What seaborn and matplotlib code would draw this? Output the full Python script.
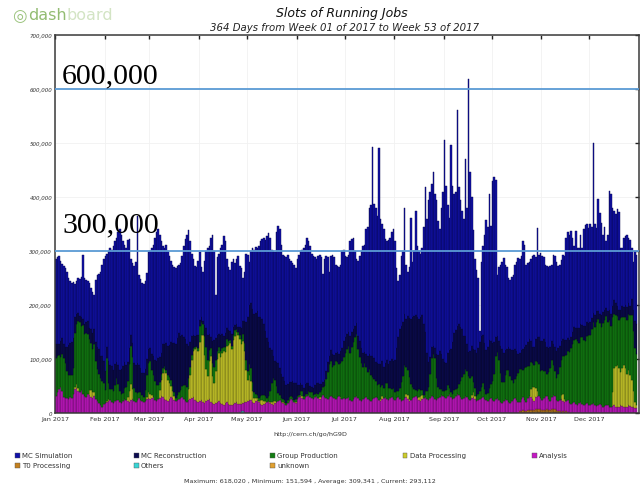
import numpy as np
import pandas as pd
import matplotlib
matplotlib.use("Agg")
import matplotlib.pyplot as plt
from matplotlib.patches import Rectangle
import seaborn as sns

# ---------------------------------------------------------------------------
# Daily running-job slots for 2017, in thousands of slots (364 days)
# ---------------------------------------------------------------------------
# total slots per day (top of the stack)
total_k = (
    [285, 288, 290, 282, 276, 272, 268, 262, 250, 244, 240, 242, 238, 245, 250, 248, 252, 292, 250, 246, 244, 240, 232, 225, 218, 246, 255, 258, 262, 275, 285]  # Jan
    + [290, 295, 300, 305, 302, 310, 318, 325, 335, 340, 330, 318, 312, 305, 320, 322, 285, 278, 272, 280, 365, 255, 248, 240, 238, 245, 260, 298]  # Feb
    + [300, 305, 312, 325, 335, 340, 330, 318, 310, 305, 312, 300, 290, 282, 275, 270, 268, 272, 275, 278, 290, 310, 322, 330, 338, 318, 295, 285, 272, 270, 282]  # Mar
    + [298, 270, 262, 282, 300, 305, 310, 325, 330, 300, 218, 288, 295, 305, 312, 328, 318, 285, 270, 265, 280, 285, 278, 285, 290, 272, 268, 250, 262, 295]  # Apr
    + [292, 280, 300, 305, 302, 308, 305, 310, 318, 322, 325, 320, 328, 333, 325, 302, 300, 298, 335, 346, 340, 312, 292, 290, 288, 292, 286, 282, 278, 275, 268]  # May
    + [285, 292, 300, 302, 305, 312, 325, 318, 310, 295, 290, 288, 285, 290, 292, 288, 258, 285, 290, 288, 262, 290, 293, 288, 275, 272, 270, 275, 300, 302]  # Jun
    + [290, 288, 293, 318, 322, 324, 300, 285, 282, 290, 300, 310, 312, 340, 345, 380, 385, 493, 387, 380, 365, 490, 360, 350, 340, 322, 318, 320, 325, 335, 340]  # Jul
    + [318, 268, 245, 255, 290, 300, 380, 275, 262, 270, 362, 280, 300, 374, 310, 300, 295, 305, 345, 418, 360, 395, 410, 425, 446, 405, 395, 355, 340, 380, 410]  # Aug
    + [505, 420, 385, 362, 496, 420, 405, 410, 562, 418, 395, 375, 360, 471, 380, 618, 447, 400, 339, 285, 265, 250, 152, 280, 310, 330, 358, 345, 405, 346]  # Sep
    + [430, 437, 432, 255, 270, 275, 280, 287, 275, 270, 250, 246, 252, 255, 275, 280, 287, 285, 290, 318, 312, 275, 278, 280, 285, 290, 293, 288, 343, 292, 296]  # Oct
    + [290, 288, 275, 272, 270, 272, 275, 293, 290, 280, 272, 275, 283, 293, 290, 325, 335, 330, 337, 325, 310, 337, 305, 305, 330, 305, 340, 348, 350, 343]  # Nov
    + [350, 345, 500, 350, 343, 396, 370, 352, 330, 345, 318, 330, 412, 405, 380, 375, 368, 378, 372, 305, 305, 325, 328, 330, 325, 320, 305, 280, 300, 293]  # Dec
)

analysis_k = (
    [32, 38, 45, 48, 40, 30, 28, 27, 26, 30, 28, 36, 44, 46, 40, 38, 42, 35, 32, 30, 36, 34, 30, 28, 32, 26, 22, 18, 14, 12, 16]
    + [18, 20, 22, 24, 20, 18, 22, 25, 24, 20, 18, 22, 26, 24, 22, 20, 24, 26, 22, 20, 25, 28, 24, 22, 20, 22, 26, 28]
    + [26, 28, 30, 24, 22, 26, 28, 32, 30, 26, 24, 22, 26, 30, 28, 25, 22, 24, 26, 28, 30, 26, 22, 20, 24, 26, 28, 30, 24, 22, 20]
    + [22, 24, 20, 18, 22, 24, 26, 20, 18, 16, 18, 20, 22, 18, 16, 15, 18, 20, 16, 15, 14, 16, 18, 20, 17, 15, 14, 16, 18, 20]
    + [22, 25, 24, 20, 18, 22, 24, 20, 16, 14, 16, 18, 20, 22, 18, 16, 15, 18, 20, 22, 24, 20, 18, 16, 15, 18, 22, 26, 24, 20, 18]
    + [26, 30, 32, 28, 26, 30, 32, 34, 30, 28, 26, 30, 32, 28, 26, 30, 33, 30, 28, 26, 30, 32, 30, 28, 26, 30, 32, 28, 26, 28]
    + [26, 28, 30, 24, 22, 26, 30, 32, 28, 24, 22, 26, 28, 30, 26, 24, 22, 26, 28, 30, 27, 25, 22, 26, 28, 30, 26, 24, 28, 30, 26]
    + [24, 28, 30, 26, 22, 24, 28, 30, 26, 22, 24, 28, 30, 32, 28, 24, 22, 26, 28, 30, 26, 24, 28, 32, 30, 26, 24, 28, 30, 34, 32]
    + [30, 28, 32, 35, 30, 26, 28, 32, 36, 34, 30, 26, 28, 32, 30, 26, 24, 28, 30, 26, 22, 24, 26, 28, 30, 26, 24, 22, 26, 28]
    + [24, 22, 26, 28, 24, 20, 18, 22, 26, 24, 20, 18, 22, 26, 28, 24, 20, 18, 22, 24, 20, 18, 22, 26, 24, 20, 18, 22, 25, 23, 20]
    + [18, 22, 26, 24, 20, 18, 22, 26, 24, 20, 18, 22, 24, 20, 18, 20, 22, 18, 16, 18, 20, 17, 15, 18, 20, 16, 14, 16, 18, 15]
    + [14, 16, 18, 15, 13, 14, 16, 14, 12, 13, 15, 14, 12, 11, 13, 14, 12, 11, 12, 14, 13, 12, 11, 12, 14, 13, 12, 11, 10, 10]
)

data_processing_k = (
    [0] * 12 + [4, 8, 6] + [0] * 6 + [8, 12, 10, 6] + [0] * 6
    + [0, 2, 4] + [0] * 11 + [8, 20, 30, 18] + [0] * 8 + [4, 10]
    + [10, 6, 0, 0, 0, 0, 15, 30, 45, 55, 50, 40, 30, 20, 12, 6, 0, 0, 0, 0, 0, 0, 0, 0, 20, 45, 70, 85, 95, 100, 95]
    + [110, 120, 125, 90, 60, 45, 70, 85, 50, 40, 60, 80, 90, 85, 95, 100, 95, 105, 110, 115, 105, 120, 125, 130, 128, 120, 110, 115, 95, 60]
    + [40, 45, 35, 20, 10, 5, 4, 3, 8, 10, 6, 4, 0, 0, 3, 5, 8, 4, 0, 0, 0, 0, 2, 3, 0, 0, 0, 0, 0, 0, 2]
    + [0, 0, 2, 4] + [0] * 10 + [3] + [0] * 12 + [2, 0, 0]
    + [0] * 22 + [4, 6] + [0] * 7
    + [0] * 7 + [5, 8, 4] + [0] * 5 + [6, 10, 8] + [0] * 13
    + [0] * 17 + [6, 8, 5] + [0] * 10
    + [0] * 24 + [15, 22, 25, 18, 8] + [0, 0]
    + [0] * 12 + [8, 12, 6] + [0] * 15
    + [0] * 14 + [25, 70, 75, 78, 72, 62, 70, 76, 72, 60, 65, 58, 50, 30, 10, 5]
)

group_production_k = (
    [70, 68, 62, 55, 70, 72, 65, 50, 45, 40, 42, 48, 100, 110, 125, 130, 120, 128, 115, 118, 110, 95, 88, 80, 90, 70, 60, 55, 50, 48, 40]
    + [25, 80, 30, 20, 25, 22, 30, 40, 30, 20, 18, 15, 20, 25, 30, 50, 70, 60, 25, 18, 12, 10, 15, 12, 10, 20, 40, 55]
    + [60, 45, 40, 35, 30, 25, 15, 10, 8, 6, 5, 8, 10, 12, 10, 8, 6, 10, 12, 15, 20, 25, 30, 28, 20, 15, 10, 5, 4, 3, 5]
    + [30, 25, 20, 35, 40, 30, 20, 15, 25, 30, 20, 15, 10, 12, 10, 8, 10, 12, 8, 6, 5, 8, 10, 6, 5, 8, 10, 12, 15, 18]
    + [15, 20, 25, 18, 10, 8, 6, 5, 8, 10, 12, 10, 8, 10, 20, 35, 42, 40, 30, 15, 10, 8, 6, 5, 4, 6, 8, 6, 5, 4, 6]
    + [5, 4, 6, 8, 6, 5, 4, 6, 8, 10, 8, 6, 5, 8, 10, 12, 15, 20, 35, 50, 60, 65, 55, 60, 70, 65, 58, 62, 70, 75]
    + [85, 90, 95, 88, 100, 105, 110, 115, 90, 80, 70, 60, 65, 55, 50, 58, 48, 40, 35, 30, 25, 28, 22, 20, 18, 25, 30, 22, 18, 15, 20]
    + [15, 12, 10, 20, 35, 45, 60, 50, 45, 40, 30, 20, 15, 10, 12, 15, 10, 8, 6, 10, 15, 25, 45, 70, 80, 75, 40, 20, 15, 10, 8]
    + [10, 15, 20, 12, 8, 10, 15, 12, 10, 20, 30, 40, 45, 50, 48, 42, 40, 35, 20, 15, 10, 12, 15, 20, 25, 18, 12, 15, 20, 25]
    + [35, 50, 80, 85, 75, 55, 40, 35, 45, 55, 60, 50, 40, 30, 35, 45, 55, 60, 55, 50, 60, 65, 60, 55, 50, 45, 40, 50, 55, 60, 50]
    + [55, 50, 45, 40, 50, 60, 70, 55, 45, 40, 50, 60, 65, 70, 80, 85, 90, 95, 105, 110, 115, 120, 118, 112, 120, 125, 122, 118, 125, 130]
    + [130, 140, 150, 145, 155, 160, 150, 145, 155, 160, 165, 155, 160, 150, 140, 100, 95, 90, 88, 100, 95, 90, 95, 100, 105, 110, 120, 110, 100, 95]
)

mc_reconstruction_k = (
    [25, 22, 20, 30, 28, 25, 30, 45, 55, 60, 62, 55, 30, 20, 15, 12, 15, 12, 18, 20, 25, 20, 25, 30, 28, 35, 40, 45, 42, 45, 40]
    + [35, 20, 40, 45, 42, 40, 38, 30, 35, 40, 45, 50, 48, 40, 35, 30, 20, 25, 45, 50, 55, 50, 45, 40, 45, 40, 30, 25]
    + [25, 30, 35, 40, 45, 50, 45, 40, 45, 40, 50, 55, 60, 70, 80, 90, 100, 105, 110, 100, 95, 90, 85, 80, 60, 45, 35, 25, 20, 20, 25]
    + [10, 8, 5, 20, 35, 45, 30, 20, 40, 50, 40, 30, 25, 30, 25, 20, 25, 20, 20, 15, 22, 15, 10, 8, 10, 15, 20, 25, 40, 70]
    + [100, 110, 120, 135, 145, 150, 155, 150, 145, 140, 130, 120, 110, 100, 80, 60, 40, 35, 45, 55, 50, 45, 40, 35, 32, 30, 28, 25, 30, 32, 30]
    + [20, 18, 15, 12, 15, 18, 20, 15, 12, 10, 12, 15, 18, 20, 15, 12, 10, 12, 15, 18, 15, 20, 25, 20, 15, 18, 20, 22, 25, 30]
    + [30, 28, 25, 30, 28, 25, 22, 20, 25, 30, 28, 25, 20, 25, 30, 28, 35, 40, 38, 35, 40, 38, 42, 45, 40, 38, 42, 45, 50, 55, 50]
    + [60, 80, 100, 110, 105, 100, 95, 90, 100, 110, 120, 130, 135, 140, 138, 130, 135, 140, 130, 110, 70, 45, 30, 20, 15, 20, 45, 60, 70, 65, 60]
    + [55, 50, 60, 70, 80, 95, 105, 110, 115, 110, 100, 90, 70, 60, 50, 45, 50, 55, 60, 70, 80, 85, 90, 95, 90, 85, 80, 85, 90, 80]
    + [70, 60, 35, 30, 35, 50, 60, 55, 45, 40, 42, 50, 55, 60, 55, 45, 35, 30, 35, 40, 38, 40, 45, 50, 40, 30, 35, 40, 45, 50, 55]
    + [55, 60, 55, 50, 45, 40, 35, 40, 45, 50, 48, 40, 35, 32, 30, 28, 25, 22, 20, 22, 25, 20, 25, 28, 25, 22, 25, 28, 25, 22]
    + [25, 20, 18, 22, 20, 15, 18, 22, 20, 18, 15, 20, 18, 22, 20, 25, 22, 20, 18, 15, 20, 18, 22, 25, 20, 18, 30, 40, 50, 55]
)

t0_processing_k = [0] * 290 + [3, 4, 5, 4, 3, 5, 6, 5, 4, 3, 4, 5, 6, 5, 4, 3, 4, 5, 4, 3, 4, 5, 6, 5, 4, 3, 2, 3, 2, 3, 2] + [0] * 43
others_k = [0] * 115 + [2, 3, 3, 2] + [0] * 245
unknown_k = [0] * 298 + [2, 2, 3, 2, 2, 3, 2, 2, 2, 3, 2, 2, 3, 2, 2] + [0] * 51

categories = ["MC Simulation", "MC Reconstruction", "Group Production", "Data Processing",
              "Analysis", "T0 Processing", "Others", "unknown"]
colors = ["#1010a8", "#0b0b50", "#127c12", "#cccc2a", "#c418c4", "#c4801e", "#38d4d4", "#e0a030"]

month_labels = ["Jan 2017", "Feb 2017", "Mar 2017", "Apr 2017", "May 2017", "Jun 2017",
                "Jul 2017", "Aug 2017", "Sep 2017", "Oct 2017", "Nov 2017", "Dec 2017"]
month_lengths = [31, 28, 31, 30, 31, 30, 31, 31, 30, 31, 30, 30]
y_ticks = [0, 100000, 200000, 300000, 400000, 500000, 600000, 700000]
marked_levels = [600000, 300000]

# ---------------------------------------------------------------------------
scale = 1000
lower = (np.array(mc_reconstruction_k) + np.array(group_production_k) + np.array(data_processing_k)
         + np.array(analysis_k) + np.array(t0_processing_k) + np.array(others_k) + np.array(unknown_k))
mc_simulation_k = np.array(total_k) - lower

series = {
    "MC Simulation": mc_simulation_k,
    "MC Reconstruction": mc_reconstruction_k,
    "Group Production": group_production_k,
    "Data Processing": data_processing_k,
    "Analysis": analysis_k,
    "T0 Processing": t0_processing_k,
    "Others": others_k,
    "unknown": unknown_k,
}
n_days = len(total_k)
frames = []
for name, vals in series.items():
    frames.append(pd.DataFrame({"day": np.arange(n_days), "slots": np.asarray(vals, float) * scale,
                                "category": name}))
df = pd.concat(frames, ignore_index=True)

sns.set_style("white")
plt.rcParams["font.family"] = ["DejaVu Sans"]

W, H = 642, 489
fig = plt.figure(figsize=(W / 100, H / 100), dpi=100)
ax = fig.add_axes([55 / W, 1 - 414 / H, (639 - 55) / W, (414 - 36) / H])

sns.histplot(data=df, x="day", weights="slots", hue="category", hue_order=categories,
             palette=colors, multiple="stack", discrete=True, shrink=1, alpha=1,
             element="bars", legend=False, ax=ax)

for p in ax.patches:
    r, g, b, a = p.get_facecolor()
    if p.get_height() <= 0:
        p.set_linewidth(0)
        continue
    p.set_edgecolor((r * 0.45, g * 0.45, b * 0.45))
    p.set_linewidth(0.3)

ax.set_xlim(-0.5, 364.5)
ax.set_ylim(0, 700000)

month_starts = np.concatenate([[0], np.cumsum(month_lengths)[:-1]]) - 0.5
ax.set_xticks(month_starts)
ax.set_xticklabels(month_labels, fontsize=4.6, color="#333333")
ax.set_yticks(y_ticks)
ax.set_yticklabels([f"{v:,}" for v in y_ticks], fontsize=4.0, color="#333333", style="italic")
ax.set_xlabel("")
ax.set_ylabel("")
ax.tick_params(axis="both", direction="in", length=3, width=1.0, color="#222222",
               top=True, right=True, pad=2)
ax.grid(True, color="#f1f1f1", linewidth=0.6)
ax.set_axisbelow(True)
for s in ax.spines.values():
    s.set_color("#3a3a3a")
    s.set_linewidth(1.1)

for lvl in marked_levels:
    ax.axhline(lvl, color="#5b9bd5", linewidth=1.3, zorder=10)

fig.text(62 / W, 1 - 83 / H, f"{marked_levels[0]:,}", family=["Liberation Serif"], fontsize=21.5,
         va="baseline", ha="left", color="black")
fig.text(62 / W, 1 - 232 / H, f"{marked_levels[1]:,}", family=["Liberation Serif"], fontsize=21.5,
         va="baseline", ha="left", color="black")

# header
fig.text(342 / W, 1 - 14 / H, "Slots of Running Jobs", fontsize=9.0, style="italic",
         ha="center", va="center", color="#111111")
fig.text(345 / W, 1 - 28 / H, "364 Days from Week 01 of 2017 to Week 53 of 2017", fontsize=7.3,
         style="italic", ha="center", va="center", color="#222222")

# dashboard logo
fig.text(19 / W, 1 - 16 / H, "\u25CE", fontsize=12, ha="center", va="center", color="#9cc47e")
t1 = fig.text(28 / W, 1 - 16 / H, "dash", fontsize=11.5, ha="left", va="center", color="#93bc72")
fig.canvas.draw()
bb = t1.get_window_extent()
fig.text(bb.x1 / W, 1 - 16 / H, "board", fontsize=11.5, ha="left", va="center", color="#d3e4c4")

# footer
fig.text(310 / W, 1 - 435 / H, "http://cern.ch/go/hG9D", fontsize=4.6, ha="center", va="center",
         color="#333333")
legend_x = [17, 136, 272, 405, 534, 17, 136, 272]
legend_y = [456, 456, 456, 456, 456, 466, 466, 466]
for name, col, lx, ly in zip(categories, colors, legend_x, legend_y):
    fig.patches.append(Rectangle(((lx - 2.5) / W, 1 - (ly + 2.5) / H), 5 / W, 5 / H,
                                 transform=fig.transFigure, facecolor=col, edgecolor="#555555",
                                 linewidth=0.3))
    fig.text((lx + 5) / W, 1 - ly / H, name, fontsize=5.0, ha="left", va="center", color="#333333")

fig.text(310 / W, 1 - 482 / H,
         "Maximum: 618,020 , Minimum: 151,594 , Average: 309,341 , Current: 293,112",
         fontsize=4.6, ha="center", va="center", color="#333333")

fig.savefig("out.png", dpi=100)
